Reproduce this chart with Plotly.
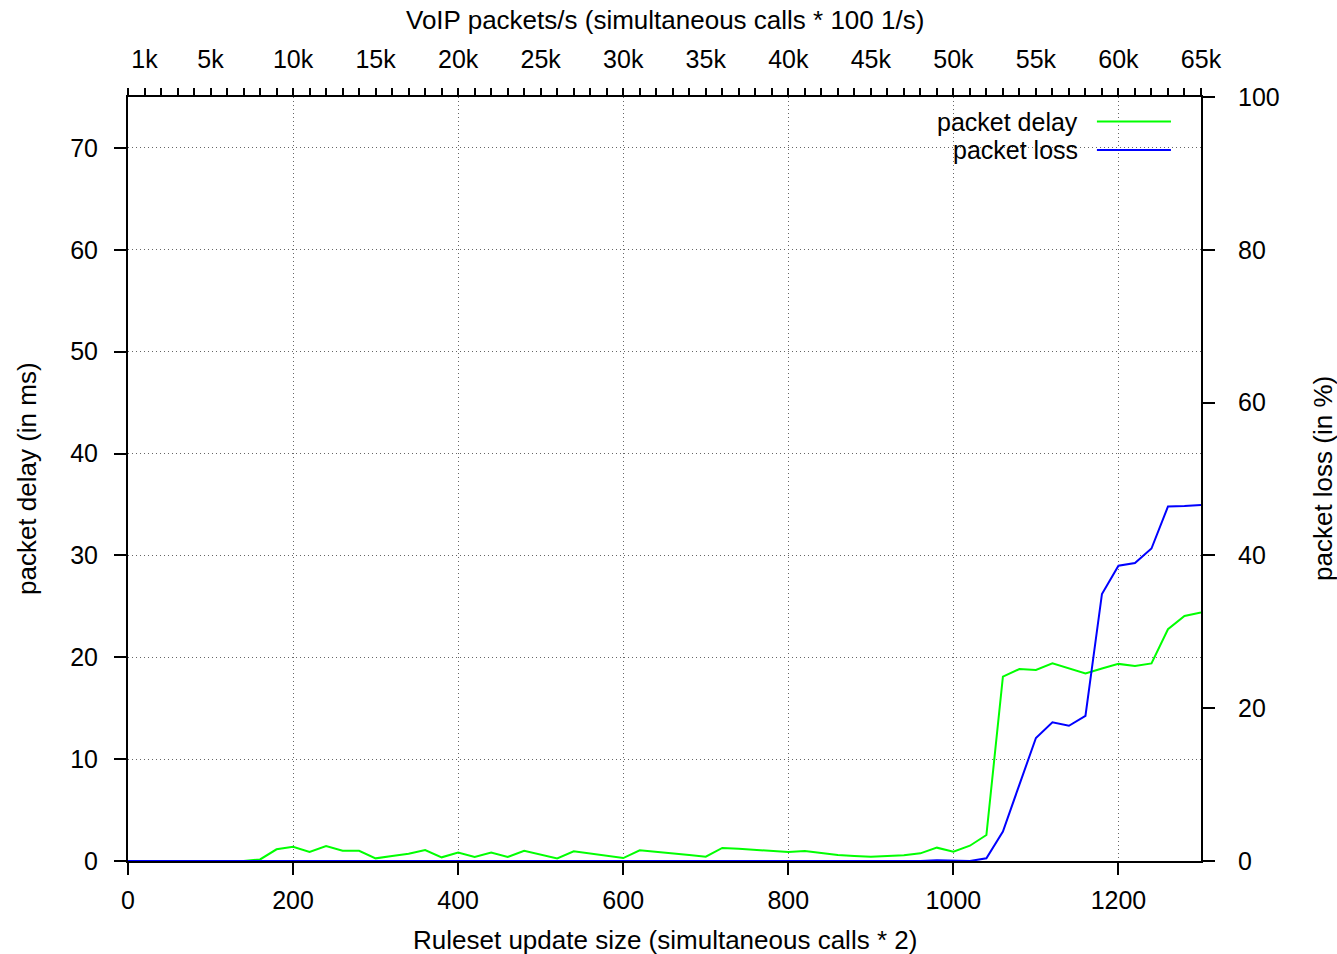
import plotly.graph_objects as go

# Ruleset update size (simultaneous calls * 2)
update_size = list(range(0, 1301, 20))

# packet delay in ms
packet_delay = [
    0, 0, 0, 0, 0, 0, 0, 0, 0.15, 1.15,
    1.4, 0.88, 1.47, 1.0, 1.0, 0.26, 0.49, 0.72, 1.08, 0.36,
    0.82, 0.39, 0.82, 0.39, 1.01, 0.66, 0.26, 0.95, 0.75, 0.52,
    0.29, 1.05, 0.92, 0.79, 0.6, 0.42, 1.28, 1.2, 1.1, 1.0,
    0.88, 0.98, 0.8, 0.6, 0.5, 0.42, 0.5, 0.56, 0.75, 1.31,
    0.92, 1.5, 2.55, 18.1, 18.85, 18.75, 19.4, 18.9, 18.4, 18.9,
    19.35, 19.15, 19.4, 22.75, 24.05, 24.4,
]

# packet loss in %
packet_loss = [
    0, 0, 0, 0, 0, 0, 0, 0, 0, 0,
    0, 0, 0, 0, 0, 0, 0, 0, 0, 0,
    0, 0, 0, 0, 0, 0, 0, 0, 0, 0,
    0, 0, 0, 0, 0, 0, 0, 0, 0, 0,
    0, 0, 0, 0, 0, 0, 0, 0, 0, 0.1,
    0.05, 0, 0.35, 3.85, 10.0, 16.1, 18.15, 17.7, 19.0, 34.95,
    38.65, 39.0, 40.9, 46.4, 46.45, 46.6,
]

bottom_ticks = [0, 200, 400, 600, 800, 1000, 1200]
delay_ticks = [0, 10, 20, 30, 40, 50, 60, 70]
loss_ticks = [0, 20, 40, 60, 80, 100]
top_ticks = [1000, 5000, 10000, 15000, 20000, 25000, 30000, 35000,
             40000, 45000, 50000, 55000, 60000, 65000]
top_labels = ["1k", "5k", "10k", "15k", "20k", "25k", "30k", "35k",
              "40k", "45k", "50k", "55k", "60k", "65k"]

FONT = "Liberation Sans, Arial, Helvetica, sans-serif"
GREEN = "#00ff00"
BLUE = "#0000ff"
GRID = dict(showgrid=True, gridcolor="#666666", griddash="1px,3px", gridwidth=1)

fig = go.Figure()
fig.add_trace(go.Scatter(x=update_size, y=packet_delay, mode="lines",
                         line=dict(color=GREEN, width=2),
                         name="packet delay", xaxis="x", yaxis="y"))
fig.add_trace(go.Scatter(x=update_size, y=packet_loss, mode="lines",
                         line=dict(color=BLUE, width=2),
                         name="packet loss", xaxis="x", yaxis="y2"))

axis_common = dict(
    showline=True, linecolor="black", linewidth=2,
    ticks="outside", tickcolor="black", tickwidth=2,
    tickfont=dict(family=FONT, size=25, color="black"),
    zeroline=False,
)

fig.update_layout(
    width=1337, height=954,
    margin=dict(l=128, r=136, t=97, b=93),
    paper_bgcolor="white", plot_bgcolor="white",
    showlegend=False,
    font=dict(family=FONT, size=25, color="black"),
    xaxis=dict(
        range=[0, 1300], tickvals=bottom_ticks, ticklen=12,
        ticklabelstandoff=4, **GRID, **axis_common,
    ),
    yaxis=dict(
        range=[0, 75], tickvals=delay_ticks, ticklen=12,
        ticklabelstandoff=11, **GRID, **axis_common,
    ),
    yaxis2=dict(
        range=[0, 100], tickvals=loss_ticks, ticklen=12,
        overlaying="y", side="right", anchor="x", showgrid=False,
        ticklabelstandoff=18, **axis_common,
    ),
    xaxis2=dict(
        range=[0, 65000], tickvals=top_ticks, ticktext=top_labels, ticklen=7,
        overlaying="x", side="top", anchor="y", showgrid=False,
        minor=dict(dtick=1000, tick0=0, ticks="outside", ticklen=7,
                   tickcolor="black", tickwidth=2),
        ticklabelstandoff=10, **axis_common,
    ),
)

# top axis carries no data of its own; an invisible trace activates it
fig.add_trace(go.Scatter(x=[0, 65000], y=[0, 0], mode="lines",
                         line=dict(width=0), hoverinfo="skip",
                         xaxis="x2", yaxis="y", showlegend=False))

# axis titles
titles = [
    ("Ruleset update size (simultaneous calls * 2)", 0.5, -0.1034, 0),
    ("VoIP packets/s (simultaneous calls * 100 1/s)", 0.5, 1.1008, 0),
    ("packet delay (in ms)", -0.0941, 0.5, -90),
    ("packet loss (in %)", 1.1137, 0.5, -90),
]
for text, tx, ty, ang in titles:
    fig.add_annotation(text=text, x=tx, y=ty, xref="paper", yref="paper",
                       xanchor="center", yanchor="middle", showarrow=False,
                       textangle=ang, font=dict(family=FONT, size=26, color="black"))

# key box: opaque background over the grid, text right-aligned, sample line on right
fig.add_shape(type="rect", xref="paper", yref="paper",
              x0=0.710, x1=0.985, y0=0.912, y1=0.9856,
              fillcolor="white", line=dict(width=0), layer="between")
key = [("packet delay", GREEN, 0.9679), ("packet loss", BLUE, 0.9306)]
for text, color, ky in key:
    fig.add_annotation(text=text, x=0.8872, y=ky, xref="paper", yref="paper",
                       xanchor="right", yanchor="middle", showarrow=False,
                       font=dict(family=FONT, size=25, color="black"))
    fig.add_shape(type="line", xref="paper", yref="paper",
                  x0=0.903, x1=0.972, y0=ky, y1=ky,
                  line=dict(color=color, width=2), layer="above")

fig.write_html("out.html")
